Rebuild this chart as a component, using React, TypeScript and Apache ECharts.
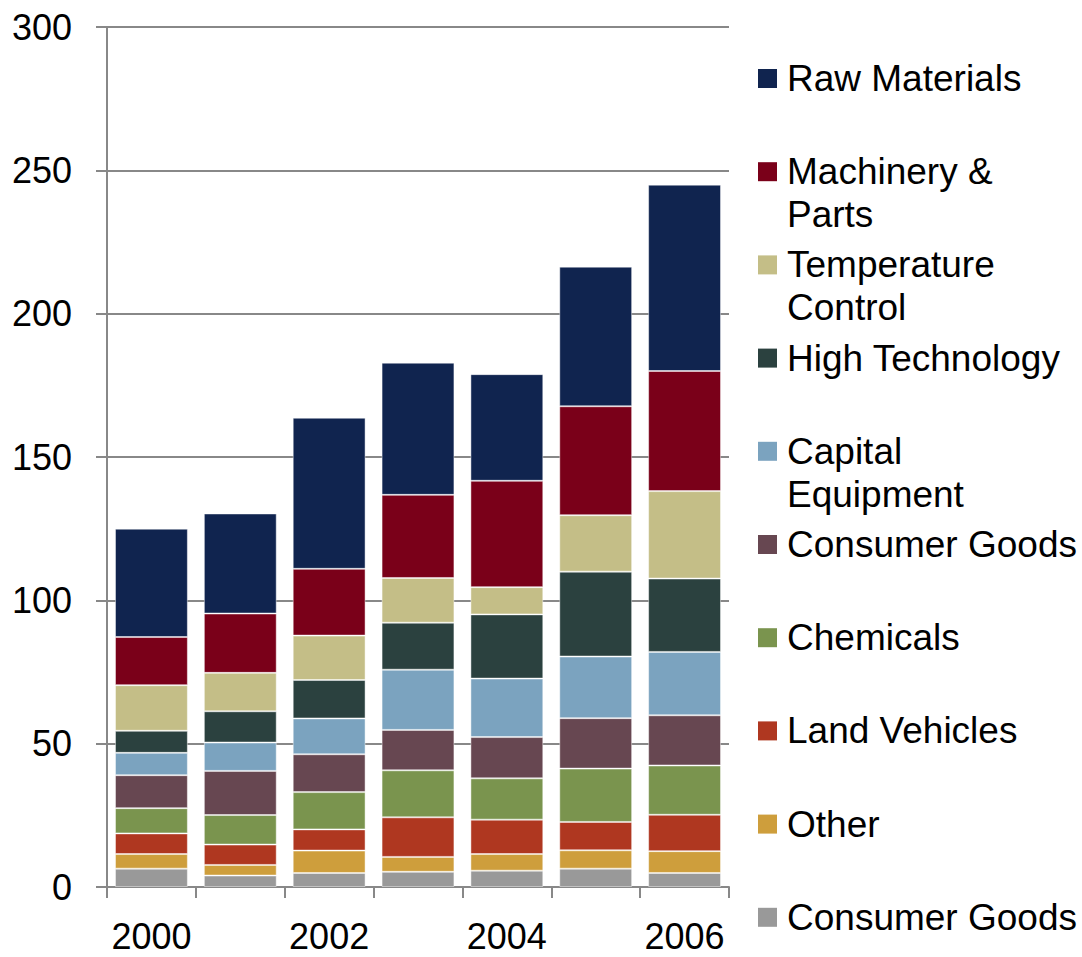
import React, { useEffect, useRef } from "react";
import * as echarts from "echarts";

const years = ["2000", "2001", "2002", "2003", "2004", "2005", "2006"];

// stack order: bottom to top
const consumerGoodsGray = [6.4, 4.0, 4.9, 5.3, 5.7, 6.4, 4.9];
const other = [5.1, 3.7, 7.8, 5.2, 5.8, 6.4, 7.6];
const landVehicles = [7.2, 7.1, 7.4, 13.8, 12.0, 9.9, 12.7];
const chemicals = [8.8, 10.3, 13.0, 16.4, 14.4, 18.6, 17.2];
const consumerGoods = [11.5, 15.4, 13.2, 14.1, 14.4, 17.6, 17.5];
const capitalEquipment = [7.8, 9.9, 12.5, 21.0, 20.4, 21.5, 22.1];
const highTechnology = [7.7, 10.9, 13.4, 16.4, 22.4, 29.6, 25.6];
const temperatureControl = [15.9, 13.4, 15.5, 15.6, 9.5, 19.7, 30.5];
const machineryParts = [16.8, 20.7, 23.3, 29.0, 37.1, 38.0, 41.9];
const rawMaterials = [37.8, 34.9, 52.7, 46.1, 37.2, 48.7, 65.0];

const yTicks = [0, 50, 100, 150, 200, 250, 300];

// legend, top to bottom
const legendLabels = [
  "Raw Materials",
  "Machinery &\nParts",
  "Temperature\nControl",
  "High Technology",
  "Capital\nEquipment",
  "Consumer Goods",
  "Chemicals",
  "Land Vehicles",
  "Other",
  "Consumer Goods",
];

const seriesDefs = [
  { name: "Consumer Goods", data: consumerGoodsGray, color: "#999999" },
  { name: "Other", data: other, color: "#CE9E3C" },
  { name: "Land Vehicles", data: landVehicles, color: "#AF3720" },
  { name: "Chemicals", data: chemicals, color: "#7A944E" },
  { name: "Consumer Goods", data: consumerGoods, color: "#674751" },
  { name: "Capital Equipment", data: capitalEquipment, color: "#7BA3BF" },
  { name: "High Technology", data: highTechnology, color: "#2B413F" },
  { name: "Temperature Control", data: temperatureControl, color: "#C4BE87" },
  { name: "Machinery & Parts", data: machineryParts, color: "#7A0019" },
  { name: "Raw Materials", data: rawMaterials, color: "#10244F" },
];

const FONT = "'Liberation Sans', Arial, sans-serif";
const AXIS_GRAY = "#888888";

export default function App() {
  const ref = useRef<HTMLDivElement>(null);

  useEffect(() => {
    if (!ref.current) return;
    const chart = echarts.init(ref.current, undefined, { renderer: "svg" });

    const legendColors = seriesDefs.map((s) => s.color).reverse();
    const step = 93.2;
    const graphics: any[] = [];
    legendLabels.forEach((label, i) => {
      const cy = 78.5 + i * step;
      graphics.push({
        type: "rect",
        shape: { x: 758, y: cy - 9.5, width: 19, height: 19 },
        style: { fill: legendColors[i] },
      });
      graphics.push({
        type: "text",
        x: 787,
        y: cy - 21.5,
        style: {
          text: label,
          fontSize: 37,
          lineHeight: 43,
          fontFamily: FONT,
          fill: "#000000",
          verticalAlign: "top",
          align: "left",
        },
      });
    });

    chart.setOption({
      animation: false,
      backgroundColor: "#ffffff",
      grid: { left: 107, right: 353, top: 27, bottom: 70, containLabel: false },
      xAxis: {
        type: "category",
        data: years,
        boundaryGap: true,
        axisLine: { show: true, lineStyle: { color: AXIS_GRAY, width: 2 } },
        axisTick: {
          show: true,
          interval: 0,
          length: 11,
          alignWithLabel: false,
          lineStyle: { color: AXIS_GRAY, width: 2 },
        },
        axisLabel: {
          interval: 1,
          fontSize: 36,
          lineHeight: 36,
          fontFamily: FONT,
          color: "#000000",
          margin: 31,
        },
      },
      yAxis: {
        type: "value",
        min: yTicks[0],
        max: yTicks[yTicks.length - 1],
        interval: 50,
        axisLine: { show: true, lineStyle: { color: AXIS_GRAY, width: 2 } },
        axisTick: { show: true, length: 11, lineStyle: { color: AXIS_GRAY, width: 2 } },
        splitLine: { show: true, lineStyle: { color: AXIS_GRAY, width: 2 } },
        axisLabel: {
          fontSize: 36,
          fontFamily: FONT,
          color: "#000000",
          margin: 35,
        },
      },
      series: seriesDefs.map((s, idx) => ({
        id: "s" + idx,
        name: s.name,
        type: "bar",
        stack: "total",
        data: s.data,
        barCategoryGap: "18%",
        itemStyle: {
          color: s.color,
          borderColor: "rgba(255,255,255,0.45)",
          borderWidth: 1,
        },
      })),
      graphic: graphics,
    });

    return () => chart.dispose();
  }, []);

  return (
    <div
      ref={ref}
      style={{ position: "fixed", left: 0, top: 0, width: 1082, height: 957, background: "#fff" }}
    />
  );
}
